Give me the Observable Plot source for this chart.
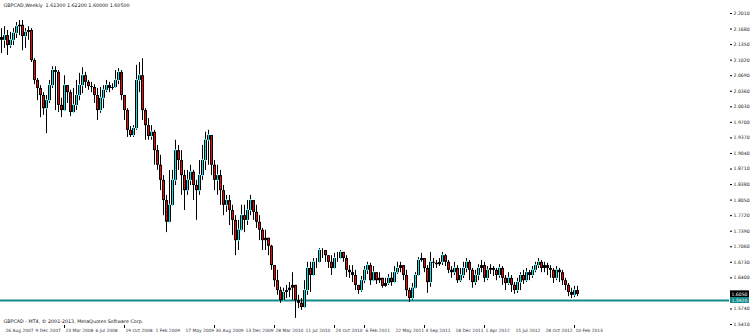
<!DOCTYPE html>
<html><head><meta charset="utf-8">
<script src="https://cdn.jsdelivr.net/npm/d3@7"></script>
<script src="https://cdn.jsdelivr.net/npm/@observablehq/plot@0.6"></script>
<style>
html,body{margin:0;padding:0;background:#fff;}
#chart{width:750px;height:334px;overflow:hidden;}
</style></head>
<body><div id="chart"></div>
<script>
const symbol = "GBPCAD,Weekly";
const copyright = "GBPCAD - MT4, \u00a9 2001-2013, MetaQuotes Software Corp.";
const firstOpen = 2.150;
const closes = [
2.144,2.154,2.133,2.144,2.159,2.173,2.176,2.152,2.161,2.165,
2.101,2.059,2.042,2.027,1.999,2.016,2.048,2.080,2.076,2.006,
1.995,2.048,2.033,1.991,2.006,2.027,2.048,2.069,2.055,2.046,
2.044,2.027,1.995,2.021,2.038,2.048,2.042,2.044,2.059,2.076,
2.027,1.995,1.953,1.942,1.957,2.059,2.069,1.995,1.963,1.940,
1.949,1.910,1.879,1.847,1.804,1.758,1.794,1.847,1.910,1.889,
1.857,1.825,1.847,1.864,1.836,1.825,1.857,1.889,1.932,1.942,
1.879,1.847,1.857,1.825,1.794,1.804,1.783,1.762,1.719,1.741,
1.772,1.762,1.783,1.804,1.779,1.758,1.741,1.719,1.724,1.707,
1.666,1.634,1.613,1.592,1.609,1.613,1.618,1.624,1.592,1.586,
1.577,1.613,1.660,1.645,1.673,1.673,1.698,1.698,1.687,1.673,
1.660,1.681,1.681,1.694,1.681,1.656,1.651,1.645,1.624,1.613,
1.634,1.656,1.666,1.634,1.651,1.634,1.639,1.622,1.628,1.639,
1.630,1.651,1.660,1.666,1.645,1.613,1.596,1.618,1.645,1.677,
1.681,1.660,1.630,1.673,1.671,1.668,1.673,1.687,1.673,1.656,
1.651,1.660,1.634,1.645,1.660,1.673,1.656,1.630,1.645,1.660,
1.666,1.639,1.656,1.660,1.656,1.645,1.660,1.639,1.628,1.639,
1.624,1.613,1.630,1.645,1.634,1.651,1.645,1.656,1.666,1.673,
1.660,1.666,1.660,1.656,1.639,1.656,1.651,1.634,1.624,1.609,
1.603,1.613,1.605];
const highs = [
2.169,2.173,2.165,2.161,2.169,2.182,2.186,2.186,2.169,2.173,
2.169,2.105,2.063,2.048,2.033,2.027,2.059,2.088,2.088,2.080,
2.021,2.069,2.048,2.038,2.042,2.059,2.074,2.086,2.076,2.059,
2.055,2.050,2.042,2.044,2.048,2.059,2.055,2.052,2.080,2.084,
2.080,2.027,1.999,1.961,1.963,2.091,2.097,2.105,1.999,1.978,
1.963,1.953,1.921,1.900,1.857,1.815,1.868,1.868,1.932,1.921,
1.910,1.868,1.868,1.879,1.868,1.847,1.889,1.921,1.949,1.953,
1.942,1.889,1.879,1.868,1.836,1.815,1.815,1.794,1.772,1.762,
1.794,1.794,1.804,1.815,1.804,1.794,1.772,1.745,1.741,1.724,
1.709,1.666,1.656,1.620,1.618,1.624,1.630,1.651,1.618,1.603,
1.596,1.634,1.673,1.673,1.681,1.681,1.702,1.702,1.694,1.687,
1.687,1.692,1.694,1.698,1.694,1.687,1.666,1.666,1.656,1.624,
1.643,1.664,1.673,1.671,1.664,1.651,1.651,1.639,1.639,1.647,
1.651,1.664,1.673,1.673,1.660,1.656,1.618,1.628,1.651,1.683,
1.692,1.677,1.666,1.694,1.681,1.677,1.681,1.694,1.690,1.677,
1.664,1.673,1.666,1.660,1.673,1.681,1.677,1.660,1.656,1.668,
1.677,1.673,1.664,1.668,1.664,1.660,1.668,1.664,1.645,1.651,
1.645,1.630,1.639,1.651,1.656,1.660,1.656,1.664,1.673,1.681,
1.677,1.673,1.671,1.666,1.660,1.664,1.660,1.656,1.639,1.628,
1.618,1.622,1.622];
const lows = [
2.116,2.127,2.112,2.127,2.133,2.148,2.154,2.122,2.127,2.144,
2.097,2.050,2.016,1.980,1.985,1.946,2.010,2.042,1.995,1.991,
1.980,2.002,2.010,1.982,1.991,1.995,2.016,2.031,2.042,2.038,
2.033,2.010,1.974,1.989,1.999,2.033,2.033,2.038,2.042,2.050,
2.016,1.974,1.938,1.938,1.938,1.953,2.033,1.974,1.932,1.932,
1.932,1.879,1.868,1.825,1.772,1.736,1.772,1.804,1.836,1.868,
1.815,1.783,1.815,1.836,1.804,1.762,1.815,1.847,1.868,1.879,
1.857,1.825,1.815,1.794,1.772,1.779,1.751,1.730,1.687,1.698,
1.741,1.736,1.751,1.772,1.762,1.745,1.719,1.698,1.698,1.687,
1.656,1.620,1.603,1.586,1.596,1.596,1.598,1.592,1.554,1.575,
1.571,1.575,1.603,1.609,1.645,1.660,1.677,1.681,1.673,1.660,
1.645,1.666,1.673,1.681,1.673,1.641,1.639,1.630,1.613,1.605,
1.609,1.628,1.647,1.624,1.637,1.626,1.628,1.618,1.620,1.624,
1.622,1.630,1.647,1.651,1.634,1.600,1.588,1.592,1.624,1.656,
1.673,1.651,1.607,1.620,1.660,1.660,1.664,1.666,1.664,1.649,
1.639,1.645,1.628,1.630,1.639,1.651,1.634,1.618,1.624,1.634,
1.651,1.630,1.634,1.647,1.643,1.634,1.639,1.624,1.613,1.624,
1.609,1.605,1.607,1.613,1.626,1.630,1.634,1.639,1.651,1.660,
1.651,1.651,1.645,1.639,1.628,1.634,1.630,1.624,1.613,1.600,
1.596,1.598,1.600];
const priceTicks = [2.2010,2.1680,2.1350,2.1020,2.0690,2.0360,2.0030,1.9700,1.9370,1.9040,
1.8710,1.8380,1.8050,1.7720,1.7390,1.7060,1.6730,1.6400,1.6070,1.5740,1.5410];
const dateLabels = ["26 Aug 2007","9 Dec 2007","23 Mar 2008","6 Jul 2008","19 Oct 2008","1 Feb 2009",
"17 May 2009","30 Aug 2009","13 Dec 2009","28 Mar 2010","11 Jul 2010","24 Oct 2010","6 Feb 2011",
"22 May 2011","4 Sep 2011","18 Dec 2011","1 Apr 2012","15 Jul 2012","28 Oct 2012","10 Feb 2013"];
const markedDates = [2,4,7,9,11,12,14,16,19];
const hLinePrice = 1.5920;

const n = Math.min(closes.length, highs.length, lows.length);
const bars = d3.range(n).map(i => {
  const o = i ? closes[i-1] : firstOpen, c = closes[i];
  return {i, o, c, h: Math.max(highs[i], o, c), l: Math.min(lows[i], o, c)};
});
const last = bars[n-1];
const dates = dateLabels.map((t,k) => ({t, i: 1 + 10*k, mark: markedDates.includes(k)}));
const xMax = 242 + 2/3;
const yMin = 1.5389, yMax = 2.2286;
const fmt5 = v => v.toFixed(5);
// the tick label hidden behind the current-price box in the reference
const labelTicks = priceTicks.filter(t => Math.abs(t - last.c) > 0.006 && Math.abs(t - hLinePrice) > 0.006);

const chart = Plot.plot({
  width: 750, height: 334,
  marginLeft: 0, marginRight: 21, marginTop: 0, marginBottom: 9,
  x: {domain: [-1/3, xMax], axis: null},
  y: {domain: [yMin, yMax]},
  style: {background: "#fff", fontFamily: "DejaVu Sans, sans-serif", color: "#111"},
  marks: [
    Plot.ruleY([hLinePrice], {stroke: "#138a8a", strokeWidth: 2}),
    Plot.ruleX(bars, {x: "i", y1: "l", y2: "h", stroke: "#000", strokeWidth: 1}),
    Plot.ruleX(bars, {x: "i", y1: "o", y2: "c", stroke: "#000", strokeWidth: 3}),
    Plot.ruleX(bars.filter(d => Math.abs(d.c - d.o) > 0.007), {x: "i", y1: "o", y2: "c",
      stroke: d => d.c > d.o ? "#00e8f0" : "#ff0000", strokeWidth: 1, insetTop: 1, insetBottom: 1}),
    Plot.axisY(priceTicks, {anchor: "right", tickSize: 2, tickPadding: 2, fontSize: 4.6,
      tickFormat: d => labelTicks.includes(d) ? d.toFixed(4) : "", stroke: "#000", fill: "#222"}),
    Plot.rect([last.c], {x1: xMax, x2: xMax, y1: d => d, y2: d => d, insetLeft: 1, insetRight: -20,
      insetTop: -3.5, insetBottom: -3.5, fill: "#000"}),
    Plot.text([last.c], {x: xMax, y: d => d, dx: 10, text: d => d.toFixed(4), fill: "#fff", fontSize: 4.6}),
    Plot.rect([hLinePrice], {x1: xMax, x2: xMax, y1: d => d, y2: d => d, insetLeft: 1, insetRight: -20,
      insetTop: -3, insetBottom: -3, fill: "#138a8a"}),
    Plot.text([hLinePrice], {x: xMax, y: d => d, dx: 10, dy: 0.5, text: d => d.toFixed(4), fill: "#fff", fontSize: 4.4}),
    Plot.text([`${symbol}  ${fmt5(last.o)} ${fmt5(last.h)} ${fmt5(last.l)} ${fmt5(last.c)}`],
      {frameAnchor: "top-left", dx: 3, dy: 3, lineAnchor: "top", textAnchor: "start", fontSize: 4.8, fill: "#111"}),
    Plot.text([copyright], {frameAnchor: "bottom-left", dx: 3, dy: -3, lineAnchor: "bottom",
      textAnchor: "start", fontSize: 4.8, fill: "#111"}),
    Plot.text(dates, {x: "i", frameAnchor: "bottom", dy: 3, dx: 1, lineAnchor: "top", textAnchor: "start",
      text: "t", fontSize: 4.4, fill: "#334"}),
    Plot.rect(dates.filter(d => d.mark), {x1: "i", x2: "i", y1: () => yMin, y2: () => yMin,
      insetLeft: 0, insetRight: -1, insetTop: 0, insetBottom: -3, fill: "#000"})
  ]
});
document.getElementById("chart").appendChild(chart);
</script></body></html>
